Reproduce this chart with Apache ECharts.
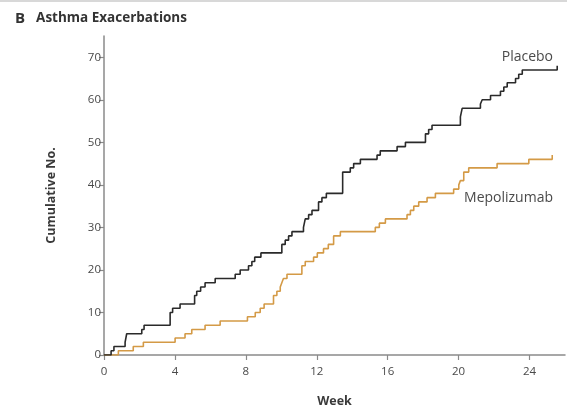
<!DOCTYPE html>
<html>
<head>
<meta charset="utf-8">
<script src="https://cdn.jsdelivr.net/npm/echarts@6/dist/echarts.min.js"></script>
<style>
  html, body { margin: 0; padding: 0; background: #fff; }
  #chart { width: 567px; height: 409px; }
</style>
</head>
<body>
<div id="chart"></div>
<script>
// Cumulative asthma exacerbations by study week (event times and running totals)
const placeboWeeks = [0, 0.40, 0.56, 1.19, 1.28, 2.13, 2.26, 3.73, 3.87, 4.29, 5.11, 5.23, 5.45, 5.70,
  6.27, 7.40, 7.68, 8.15, 8.34, 8.50, 8.85, 10.03, 10.22, 10.41, 10.60, 11.25, 11.35, 11.54, 11.73,
  12.10, 12.29, 12.54, 13.46, 13.89, 14.08, 14.46, 15.40, 15.58, 16.53, 17.00, 18.13, 18.31, 18.50,
  20.10, 20.20, 21.23, 21.33, 21.80, 22.36, 22.55, 22.74, 23.21, 23.39, 23.59, 25.56];
const placeboCounts = [0, 1, 2, 3, 5, 6, 7, 10, 11, 12, 14, 15, 16, 17,
  18, 19, 20, 21, 22, 23, 24, 26, 27, 28, 29, 30, 32, 33, 34,
  36, 37, 38, 43, 44, 45, 46, 47, 48, 49, 50, 52, 53, 54,
  56, 58, 59, 60, 61, 62, 63, 64, 65, 66, 67, 68];

const mepolizumabWeeks = [0, 0.81, 1.65, 2.22, 4.01, 4.57, 4.95, 5.70, 6.55, 8.09, 8.53, 8.81, 9.03,
  9.56, 9.75, 9.94, 10.03, 10.12, 10.32, 11.16, 11.35, 11.82, 12.03, 12.38, 12.65, 12.95, 13.33,
  15.30, 15.53, 15.87, 17.09, 17.28, 17.47, 17.75, 18.22, 18.69, 19.72, 20.01, 20.10, 20.29, 20.57,
  22.17, 23.96, 25.28];
const mepolizumabCounts = [0, 1, 2, 3, 4, 5, 6, 7, 8, 9, 10, 11, 12,
  14, 15, 16, 17, 18, 19, 21, 22, 23, 24, 25, 26, 28, 29,
  30, 31, 32, 33, 34, 35, 36, 37, 38, 39, 40, 41, 43, 44,
  45, 46, 47];

const weekTicks = [0, 4, 8, 12, 16, 20, 24];
const countTicks = [0, 10, 20, 30, 40, 50, 60, 70];

const seriesNames = ['Placebo', 'Mepolizumab'];

function pairs(xs, ys) { return xs.map((x, i) => [x, ys[i]]); }

const FONT = '"Open Sans", "Noto Sans", sans-serif';
const AXIS_COLOR = '#8a8a8a';
const TEXT_COLOR = '#4a4a4a';

const chart = echarts.init(document.getElementById('chart'), null, { renderer: 'canvas' });

chart.setOption({
  animation: false,
  backgroundColor: '#fff',
  textStyle: { fontFamily: FONT },
  grid: { left: 104, right: 2, top: 36, bottom: 54, containLabel: false, outerBoundsMode: 'none' },
  xAxis: {
    type: 'value',
    min: 0, max: 26,
    name: 'Week',
    nameLocation: 'middle',
    nameGap: 40,
    nameTextStyle: { fontFamily: FONT, fontSize: 12.5, fontWeight: 'bold', color: '#3a3a3a' },
    axisLine: { show: true, onZero: false, lineStyle: { color: AXIS_COLOR, width: 1.5 } },
    axisTick: { show: true, length: 5, customValues: weekTicks, lineStyle: { color: AXIS_COLOR, width: 1.2 } },
    axisLabel: { customValues: weekTicks, margin: 11, fontSize: 11.5, color: TEXT_COLOR, fontFamily: FONT },
    splitLine: { show: false }
  },
  yAxis: {
    type: 'value',
    min: 0, max: 75,
    name: 'Cumulative No.',
    nameLocation: 'middle',
    nameGap: 46,
    nameRotate: 90,
    nameTextStyle: { fontFamily: FONT, fontSize: 12.5, fontWeight: 'bold', color: '#3a3a3a' },
    axisLine: { show: true, onZero: false, lineStyle: { color: AXIS_COLOR, width: 1.5 } },
    axisTick: { show: true, length: 5, customValues: countTicks, lineStyle: { color: AXIS_COLOR, width: 1.2 } },
    axisLabel: { customValues: countTicks, margin: 3, fontSize: 11.5, color: TEXT_COLOR, fontFamily: FONT },
    splitLine: { show: false }
  },
  series: [
    {
      name: seriesNames[0],
      type: 'line',
      step: 'end',
      symbol: 'none',
      data: pairs(placeboWeeks, placeboCounts),
      lineStyle: { color: '#2a2a2a', width: 1.6 },
      z: 3
    },
    {
      name: seriesNames[1],
      type: 'line',
      step: 'end',
      symbol: 'none',
      data: pairs(mepolizumabWeeks, mepolizumabCounts),
      lineStyle: { color: '#D49A46', width: 1.6 },
      z: 2
    }
  ],
  graphic: [
    {
      type: 'rect',
      shape: { x: 0, y: 0, width: 567, height: 2 },
      style: { fill: '#d8d8d8' },
      silent: true
    },
    {
      type: 'text',
      left: 15, top: 11,
      style: {
        text: '{b|B}{t|Asthma Exacerbations}',
        rich: {
          b: { fontFamily: FONT, fontSize: 15, fontWeight: 'bold', fill: '#333', padding: [0, 11, 0, 0] },
          t: { fontFamily: FONT, fontSize: 13.5, fontWeight: 'bold', fill: '#333' }
        }
      }
    },
    {
      type: 'text',
      right: 14, top: 50,
      style: { text: seriesNames[0], fontFamily: FONT, fontSize: 14, fill: TEXT_COLOR }
    },
    {
      type: 'text',
      right: 14, top: 191,
      style: { text: seriesNames[1], fontFamily: FONT, fontSize: 14, fill: TEXT_COLOR }
    }
  ]
});
</script>
</body>
</html>
